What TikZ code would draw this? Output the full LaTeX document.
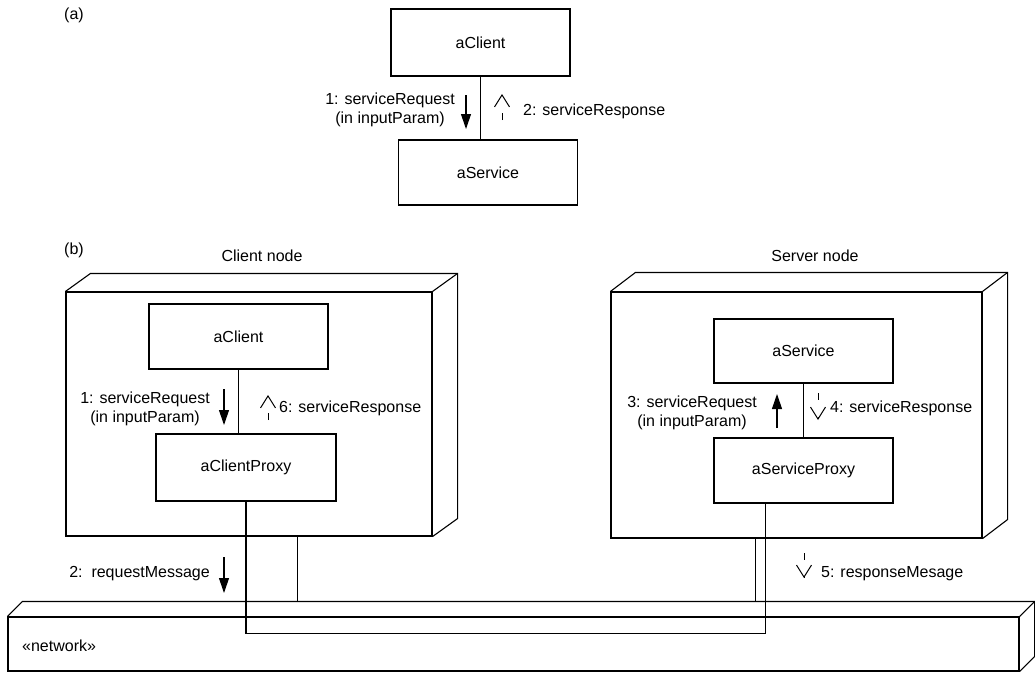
\documentclass[tikz,border=0pt]{standalone}
\usepackage{fontspec}
\setmainfont{Liberation Sans}
\usetikzlibrary{arrows.meta,calc,positioning}

\begin{document}
\begin{tikzpicture}[
  x=1pt, y=-1pt,
  every node/.style={font=\fontsize{16}{19}\selectfont},
  objbox/.style={rectangle, draw, line width=1.1pt, minimum width=179pt, minimum height=65pt, inner sep=0pt},
  nodeface/.style={rectangle, draw, line width=1.1pt, inner sep=0pt},
  msg/.style={inner sep=0pt, align=center},
  link/.style={line width=1.1pt},
  edge3d/.style={line width=1.8pt},
  call/.style={-{Triangle[length=15pt,width=10pt]}, line width=1.1pt},
  reply/.style={line width=1pt, dash pattern=on 7pt off 40pt,
    postaction={draw, solid, -{Straight Barb[length=12pt,width=15pt]}, shorten <=24pt}}
]
  \useasboundingbox (0,0) rectangle (1035,673);

  % (a) direct call
  \node[msg] (lblA) at (74,15) {(a)};
  \node[objbox, minimum height=67pt] (clientA) at (480.5,42.5) {aClient};
  \node[objbox] (serviceA) at (488,172.5) {aService};
  \draw[link] (clientA.south) -- (clientA.south |- serviceA.north);
  \coordinate (a1s) at (466,95);  \coordinate (a1e) at (466,129);
  \coordinate (a2s) at (502,120); \coordinate (a2e) at (502,94);
  \draw[call] (a1s) -- (a1e);
  \draw[reply] (a2s) -- (a2e);
  \node[msg, anchor=east] (reqA) at (455,110) {1: serviceRequest\\(in inputParam)};
  \node[msg, anchor=west] (respA) at (523,111) {2: serviceResponse};

  % (b) client node
  \node[msg] (lblB) at (74,250) {(b)};
  \node[msg] (cnodeName) at (262,256) {Client node};
  \node[nodeface, minimum width=366pt, minimum height=244pt] (cnode) at (249,414) {};
  \draw[link] (cnode.north west) -- ++(25,-18) -| ($(cnode.south east)+(25,-18)$) -- (cnode.south east);
  \draw[link] (cnode.north east) -- ++(25,-18);
  \draw[edge3d] (cnode.north west) -- (cnode.north east) -- (cnode.south east);
  \node[objbox] (clientB) at (238.5,336.5) {aClient};
  \node[objbox, minimum width=180pt, minimum height=67pt] (cproxy) at (246,467.5) {aClientProxy};
  \draw[link] (clientB.south) -- (clientB.south |- cproxy.north);
  \coordinate (b1s) at (224,389); \coordinate (b1e) at (224,425);
  \coordinate (b6s) at (268,420); \coordinate (b6e) at (268,395);
  \draw[call] (b1s) -- (b1e);
  \draw[reply] (b6s) -- (b6e);
  \node[msg, anchor=east] (reqB) at (210,409) {1: serviceRequest\\(in inputParam)};
  \node[msg, anchor=west] (respB) at (279,408) {6: serviceResponse};

  % server node
  \node[msg] (snodeName) at (815,256) {Server node};
  \node[nodeface, minimum width=371pt, minimum height=246pt] (snode) at (796.5,415) {};
  \draw[link] (snode.north west) -- ++(25,-19) -| ($(snode.south east)+(25,-19)$) -- (snode.south east);
  \draw[link] (snode.north east) -- ++(25,-19);
  \draw[edge3d] (snode.north west) -- (snode.north east) -- (snode.south east);
  \node[objbox, minimum height=64pt] (serviceB) at (803.5,351) {aService};
  \node[objbox] (sproxy) at (803.5,470.5) {aServiceProxy};
  \draw[link] (serviceB.south) -- (serviceB.south |- sproxy.north);
  \coordinate (b3s) at (777,428); \coordinate (b3e) at (777,394);
  \coordinate (b4s) at (818,393); \coordinate (b4e) at (818,420);
  \draw[call] (b3s) -- (b3e);
  \draw[reply] (b4s) -- (b4e);
  \node[msg, anchor=east] (reqS) at (757,413) {3: serviceRequest\\(in inputParam)};
  \node[msg, anchor=west] (respS) at (830,408) {4: serviceResponse};

  % network
  \node[nodeface, minimum width=1011pt, minimum height=54pt] (net) at (513.5,644) {};
  \draw[link] (net.north west) -- ++(15,-15) -| ($(net.south east)+(15,-15)$) -- (net.south east);
  \draw[link] (net.north east) -- ++(15,-15);
  \draw[edge3d] (net.north west) -- (net.north east) -- (net.south east);
  \node[msg, anchor=west] (netName) at (22,646) {«network»};
  \coordinate (nettop) at ($(net.north)+(0,-15)$);

  % links to the network
  \coordinate (cdrop) at ($(cnode.south west)+(232,0)$);
  \coordinate (sdrop) at ($(snode.south west)+(145,0)$);
  \coordinate (sout) at ($(sproxy.south west)+(52,0)$);
  \draw[link] (cdrop) -- (cdrop |- nettop);
  \draw[link] (sdrop) -- (sdrop |- nettop);
  \draw[link] (cproxy.south) -- ++(0,132) -| (sout);

  % messages over the network
  \coordinate (m2s) at (224,557); \coordinate (m2e) at (224,593);
  \coordinate (m5s) at (804,553); \coordinate (m5e) at (804,578);
  \draw[call] (m2s) -- (m2e);
  \draw[reply] (m5s) -- (m5e);
  \node[msg, anchor=east] (msg2) at (210,574) {2:\ \ requestMessage};
  \node[msg, anchor=west] (msg5) at (821,574) {5: responseMesage};
\end{tikzpicture}
\end{document}
